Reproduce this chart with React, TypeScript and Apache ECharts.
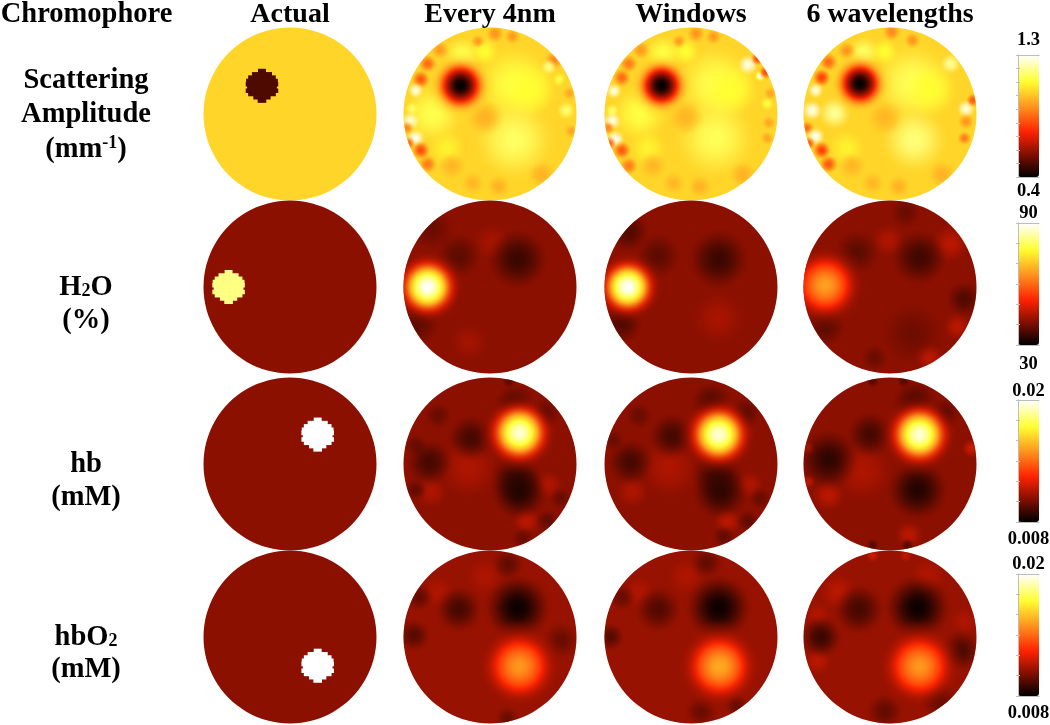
import React, { useEffect, useRef } from "react";
import * as echarts from "echarts";

type Blob = number[]; // x (0-100), y (0-100), radius (0-100 scale), value in the row's unit

const COLUMN_TITLES = ["Actual", "Every 4nm", "Windows", "6 wavelengths"];
const COLUMN_CENTERS = [290, 490, 691, 890];
const ROW_CENTERS = [114, 287, 464, 637];
const ROW_RANGES = [
  [0.4, 1.3],
  [30, 90],
  [0.008, 0.02],
  [0.008, 0.02],
];
const RANGE_STEPS = [0.1, 10, 0.002, 0.002];
const RANGE_LABELS = [
  ["1.3", "0.4"],
  ["90", "30"],
  ["0.02", "0.008"],
  ["0.02", "0.008"],
];

// Actual (ground-truth) phantoms: background value, inclusion x, y, value
const ACTUAL_BACKGROUND = [1.03, 42, 0.0104, 0.0104];
const ACTUAL_INCLUSION = [
  [33.8, 33.7, 0.5],
  [14.5, 50, 82],
  [66, 33, 0.02],
  [66, 66.6, 0.02],
];
// half-widths of the stair-stepped inclusion, row by row
const INCLUSION_ROWS = [2.3, 5.8, 8, 9.2, 9.4, 8.6, 9.4, 8, 5, 2.5];

// Reconstruction background per row
const RECON_BACKGROUND = [1.03, 42, 0.0104, 0.0106];

const SCATTER_4NM: Blob[] = [
  [64, 33, 17, 1.12], [73, 36, 12, 1.1], [64, 65, 17, 1.15], [17, 50, 13, 1.13], [34, 16, 8, 1.13], [47, 14, 6, 1.1], [25, 70, 8, 1.08],
  [47, 52, 8, 0.97], [28, 80, 6, 0.98], [40, 90, 5, 0.98], [55, 92, 5, 0.97], [80, 85, 6, 0.97],
  [14, 21, 4, 0.85], [10, 30, 4, 0.82], [7, 36, 3.5, 1.26], [5, 47, 3, 1.15], [4, 54, 4, 1.25], [2, 58, 3, 0.9],
  [7, 64, 4, 1.28], [3, 67, 3, 0.85], [10, 71, 4, 0.8], [14, 79, 4, 0.88], [21, 13, 4, 0.93], [53, 3.5, 4, 0.92],
  [63, 5, 3.5, 0.93], [43, 8, 3, 0.93], [87, 19, 4, 0.9], [84, 22, 3.5, 1.18], [90, 30, 3, 1.12], [94, 48, 4, 1.16],
  [96, 38, 3, 0.95], [97, 60, 3, 0.95], [33, 33.5, 20, 0.4],
];
const SCATTER_WINDOWS: Blob[] = [
  [64, 33, 17, 1.13], [73, 36, 12, 1.1], [64, 64, 17, 1.14], [20, 50, 12, 1.12], [34, 15, 8, 1.12], [47, 14, 6, 1.1], [25, 70, 8, 1.08],
  [47, 52, 8, 0.98], [28, 80, 6, 0.98], [40, 90, 5, 0.98], [55, 92, 5, 0.97], [80, 85, 6, 0.97],
  [14, 21, 4, 0.88], [10, 29, 4, 0.85], [5.4, 36, 3.5, 1.26], [4.4, 48, 3, 1.15], [4.4, 54, 4, 1.27], [2, 58, 3, 0.9],
  [6.3, 64.5, 4, 1.28], [3, 67, 3, 0.85], [10, 71, 4, 0.82], [14, 80, 4, 0.88], [21, 13, 4, 0.93], [53, 3.5, 4, 0.92],
  [63, 5, 3.5, 0.93], [43, 8, 3, 0.93], [83, 21, 4.5, 1.27], [90, 28, 4, 1.3], [88.5, 18, 3, 0.79], [93, 26, 3, 0.8],
  [94, 44, 3, 1.12], [96, 38, 3, 0.95], [95, 55, 3, 0.95], [94, 64, 3, 0.95], [33, 33.5, 19, 0.4],
];
const SCATTER_6WL: Blob[] = [
  [63, 32, 17, 1.14], [73, 36, 12, 1.1], [64, 65, 14, 1.17], [18, 49.5, 7, 1.2], [35, 14.5, 7, 1.15], [47, 14, 6, 1.1], [25, 70, 8, 1.08],
  [47, 52, 8, 0.98], [28, 80, 6, 0.98], [40, 90, 5, 0.98], [55, 92, 5, 0.97], [80, 85, 6, 0.97],
  [14.5, 20, 4, 0.85], [10.5, 29, 4, 0.78], [7, 36, 3.5, 1.26], [5, 48, 4.5, 1.27], [2, 58, 3, 0.85], [7, 63, 4, 1.28],
  [3, 67, 3, 0.82], [10.5, 71, 4, 0.78], [14.5, 79, 4, 0.82], [25, 13.5, 4, 0.92], [51, 2.5, 4, 0.9], [63, 7, 3.5, 0.92],
  [85, 21, 4.5, 1.2], [94, 47, 4, 1.26], [94, 54, 3.5, 0.92], [93, 64, 3, 0.88], [98, 42, 3, 0.82], [32.7, 32.4, 19, 0.4],
];

const WATER_4NM: Blob[] = [
  [51, 24, 8, 44], [38, 82, 8, 44], [16, 16, 10, 39], [8, 71, 10, 38], [32, 32, 10, 38], [66, 34, 13, 35], [14, 50, 23, 90],
];
const WATER_WINDOWS: Blob[] = [
  [66, 68, 11, 44.5], [14, 18, 9, 37], [10, 71, 9, 37], [31, 32, 10, 38], [66, 34, 13, 35], [13.5, 50, 22, 90],
];
const WATER_6WL: Blob[] = [
  [85, 25, 8, 46], [49, 23, 7, 45], [72, 90, 6, 47], [89, 73, 6, 46], [59, 7, 7, 39], [41, 91, 6, 39], [12.5, 73, 9, 38],
  [63, 77, 14, 39.5], [93, 57, 8, 37], [31, 30, 10, 38], [67, 33, 12, 35.5], [12.5, 49, 26, 66],
];

const HB_4NM: Blob[] = [
  [37.5, 52, 13, 0.011], [16, 66, 7, 0.011], [71, 83, 6, 0.0112], [84, 62, 6, 0.011], [7, 65, 5, 0.0097], [7, 39, 5, 0.0098],
  [20, 22, 6, 0.0098], [83, 83, 5, 0.0097], [69, 93, 5, 0.0098], [61, 2, 3, 0.0095], [91, 70, 5, 0.0098], [39, 35, 10, 0.0092],
  [15, 49, 10, 0.0092], [65, 58, 11, 0.0092], [67, 66, 12, 0.0086], [64.5, 15.5, 9, 0.0094], [81, 21, 7, 0.0095], [67, 32, 24, 0.0195],
];
const HB_WINDOWS: Blob[] = [
  [37.5, 52, 13, 0.011], [16, 66, 7, 0.011], [71, 83, 6, 0.0112], [84, 62, 6, 0.011], [5, 36, 5, 0.0098], [20, 22, 6, 0.0098],
  [83, 83, 5, 0.0097], [69, 92, 5, 0.0097], [90, 70, 5, 0.0098], [39, 34, 10, 0.0092], [15, 49, 10, 0.0092], [65, 56, 11, 0.0092],
  [67, 66, 12, 0.0088], [62, 14.5, 9, 0.0094], [81, 21, 7, 0.0095], [66, 33, 24, 0.0195],
];
const HB_6WL: Blob[] = [
  [34, 54, 13, 0.011], [61, 91, 6, 0.0112], [14.5, 68, 7, 0.0112], [97, 41, 4, 0.0115], [3, 41, 3, 0.0113], [3, 60, 3, 0.0113],
  [40, 2, 3, 0.0094], [58, 2, 3, 0.0094], [40, 97, 3, 0.0094], [60, 97, 3, 0.0094], [14.5, 47.5, 13, 0.0088], [38.5, 33, 10, 0.0092],
  [66, 65, 13, 0.0086], [64.5, 14.5, 10, 0.0094], [81, 21, 7, 0.0095], [67, 33, 24, 0.0195],
];

const HBO2_4NM: Blob[] = [
  [20, 24, 7, 0.011], [47, 15, 8, 0.011], [9, 27, 6, 0.0097], [6, 49, 7, 0.0095], [60.5, 8, 7, 0.0097], [91, 52, 8, 0.0098],
  [60, 97, 5, 0.0098], [32, 34, 10, 0.0092], [66, 33, 14, 0.0082], [67, 67, 27, 0.015],
];
const HBO2_WINDOWS: Blob[] = [
  [20, 24, 7, 0.011], [47, 15, 8, 0.011], [10, 27, 6, 0.0098], [3.5, 50, 6, 0.0095], [59, 7, 7, 0.0097], [76, 89, 5, 0.0096],
  [56, 93, 7, 0.0098], [31, 34, 10, 0.0094], [66, 33, 14, 0.0082], [66.5, 67, 27, 0.0154],
];
const HBO2_6WL: Blob[] = [
  [20, 24, 8, 0.0112], [8, 37, 6, 0.011], [8, 64, 6, 0.0112], [93, 41, 6, 0.011], [72, 14.5, 8, 0.011], [40, 3, 3, 0.0115],
  [59, 3, 3, 0.0113], [10, 50, 9, 0.009], [91, 58, 9, 0.0093], [78, 86, 8, 0.0096], [47, 93, 8, 0.0097], [32, 34, 11, 0.0092],
  [66, 33, 14, 0.0082], [67, 67, 27, 0.015],
];

const RECON_PANELS: Blob[][][] = [
  [SCATTER_4NM, SCATTER_WINDOWS, SCATTER_6WL],
  [WATER_4NM, WATER_WINDOWS, WATER_6WL],
  [HB_4NM, HB_WINDOWS, HB_6WL],
  [HBO2_4NM, HBO2_WINDOWS, HBO2_6WL],
];

const COLORMAP: [number, number[]][] = [
  [0, [0, 0, 0]],
  [0.2, [140, 16, 0]],
  [0.37, [255, 34, 0]],
  [0.6, [255, 160, 32]],
  [0.78, [255, 255, 48]],
  [1, [255, 255, 255]],
];

function colourAt(t: number, alpha = 1): string {
  const u = Math.max(0, Math.min(1, t));
  for (let i = 1; i < COLORMAP.length; i++) {
    const [t1, c1] = COLORMAP[i];
    const [t0, c0] = COLORMAP[i - 1];
    if (u <= t1) {
      const f = (u - t0) / (t1 - t0);
      const c = c0.map((v, k) => Math.round(v + (c1[k] - v) * f));
      return `rgba(${c[0]},${c[1]},${c[2]},${alpha})`;
    }
  }
  return `rgba(255,255,255,${alpha})`;
}

const SERIF = '"Liberation Serif", "Times New Roman", serif';
const CB_LEFT = 1018;
const CB_WIDTH = 21;
const CB_HEIGHT = 122;
const CB_TOPS = [55, 223, 400, 574];
const CB_LABEL_Y = [
  [39, 190],
  [212, 363],
  [390, 538],
  [563, 712],
];

function blobSeries(r: number, blobs: Blob[], background: number, gridIndex: number) {
  const [lo, hi] = ROW_RANGES[r];
  const tOf = (v: number) => (v - lo) / (hi - lo);
  return {
    type: "custom",
    xAxisIndex: gridIndex,
    yAxisIndex: gridIndex,
    clip: false,
    silent: true,
    encode: { x: 0, y: 1 },
    data: [[50, 50, 50, background], ...blobs],
    renderItem(params: any, api: any) {
      const c = api.coord([api.value(0), api.value(1)]);
      let rad = api.size([api.value(2), 0])[0];
      const v = api.value(3);
      const centre = api.coord([50, 50]);
      const discR = api.size([50, 0])[0];
      const clipPath = { type: "circle", shape: { cx: centre[0], cy: centre[1], r: discR } };
      if (params.dataIndex === 0) {
        return { type: "circle", shape: { cx: c[0], cy: c[1], r: rad }, style: { fill: colourAt(tOf(v)) } };
      }
      const soft = Math.abs(tOf(v) - tOf(background)) < 0.3;
      if (soft) rad *= 1.45;
      const colorStops = [];
      for (let i = 0; i <= 14; i++) {
        const s = i / 14;
        if (soft) {
          colorStops.push({ offset: s, color: colourAt(tOf(v), Math.pow(1 - s * s, 2)) });
        } else {
          const p = Math.pow(1 - s * s, 3);
          const val = background + (v - background) * p;
          const alpha = s < 0.45 ? 1 : 1 - (s - 0.45) / 0.55;
          colorStops.push({ offset: s, color: colourAt(tOf(val), alpha) });
        }
      }
      return {
        type: "circle",
        shape: { cx: c[0], cy: c[1], r: rad },
        clipPath,
        style: { fill: { type: "radial", x: 0.5, y: 0.5, r: 0.5, colorStops } },
      };
    },
  };
}

function actualSeries(r: number, gridIndex: number) {
  const [lo, hi] = ROW_RANGES[r];
  const tOf = (v: number) => (v - lo) / (hi - lo);
  const bg = ACTUAL_BACKGROUND[r];
  const [ix, iy, iv] = ACTUAL_INCLUSION[r];
  const rowStep = 1.9;
  const rows = INCLUSION_ROWS.map((half, k) => [ix, iy + (k - (INCLUSION_ROWS.length - 1) / 2) * rowStep, half, iv]);
  return {
    type: "custom",
    xAxisIndex: gridIndex,
    yAxisIndex: gridIndex,
    clip: false,
    silent: true,
    encode: { x: 0, y: 1 },
    data: [[50, 50, 50, bg], ...rows],
    renderItem(params: any, api: any) {
      const c = api.coord([api.value(0), api.value(1)]);
      const half = api.size([api.value(2), 0])[0];
      const v = api.value(3);
      if (params.dataIndex === 0) {
        return { type: "circle", shape: { cx: c[0], cy: c[1], r: half }, style: { fill: colourAt(tOf(v)) } };
      }
      const h = api.size([0, rowStep])[1];
      return {
        type: "rect",
        shape: { x: c[0] - half, y: c[1] - h / 2 - 0.6, width: half * 2, height: h + 1.2 },
        style: { fill: colourAt(tOf(v)) },
      };
    },
  };
}

const textEl = (text: string, x: number, y: number, size = 28.5, rich?: any) => ({
  type: "text",
  x,
  y,
  silent: true,
  style: {
    text,
    fill: "#000",
    font: `bold ${size}px ${SERIF}`,
    align: "center",
    verticalAlign: "middle",
    lineHeight: 24,
    ...(rich ? { rich } : {}),
  },
});

const RICH = {
  a: { fontFamily: SERIF, fontWeight: "bold", fontSize: 28.5, fill: "#000", color: "#000" },
  sub: { fontFamily: SERIF, fontWeight: "bold", fontSize: 18, fill: "#000", color: "#000", padding: [10, 0, 0, 0] },
  sup: { fontFamily: SERIF, fontWeight: "bold", fontSize: 18, fill: "#000", color: "#000", padding: [0, 0, 11, 0] },
};

export default function App() {
  const ref = useRef<HTMLDivElement>(null);
  useEffect(() => {
    const chart = echarts.init(ref.current!, undefined, { renderer: "svg" });
    const grid: any[] = [];
    const xAxis: any[] = [];
    const yAxis: any[] = [];
    const series: any[] = [];
    const R = 86.5;
    ROW_CENTERS.forEach((cy, r) => {
      COLUMN_CENTERS.forEach((cx, c) => {
        const idx = grid.length;
        grid.push({ left: cx - R, top: cy - R, width: 2 * R, height: 2 * R });
        xAxis.push({ type: "value", gridIndex: idx, min: 0, max: 100, show: false });
        yAxis.push({ type: "value", gridIndex: idx, min: 0, max: 100, inverse: true, show: false });
        series.push(
          c === 0
            ? actualSeries(r, idx)
            : blobSeries(r, RECON_PANELS[r][c - 1], RECON_BACKGROUND[r], idx)
        );
      });
    });

    const axisStyle = { lineStyle: { color: "#bdbdbd", width: 1 } };
    const visualMap: any[] = [];
    const firstBarSeries = series.length;
    const barColours = Array.from({ length: 41 }, (_, i) => colourAt(i / 40));
    ROW_RANGES.forEach(([lo, hi], r) => {
      const g = grid.length;
      const xIdx = xAxis.length;
      const yIdx = yAxis.length;
      grid.push({ left: CB_LEFT, top: CB_TOPS[r], width: CB_WIDTH, height: CB_HEIGHT });
      ["bottom", "top"].forEach((position) =>
        xAxis.push({
          type: "value", gridIndex: g, min: 0, max: 1, position, z: 8,
          axisLine: { show: true, ...axisStyle }, axisTick: { show: false }, axisLabel: { show: false }, splitLine: { show: false },
        })
      );
      ["left", "right"].forEach((position) =>
        yAxis.push({
          type: "value", gridIndex: g, min: lo, max: hi, interval: RANGE_STEPS[r], position, z: 8,
          axisLine: { show: true, ...axisStyle },
          axisTick: { show: true, inside: true, length: 2, ...axisStyle },
          axisLabel: { show: false }, splitLine: { show: false },
        })
      );
      series.push({
        type: "custom", xAxisIndex: xIdx, yAxisIndex: yIdx, data: [], silent: true, renderItem: () => null,
      });
      visualMap.push({
        type: "continuous",
        min: lo,
        max: hi,
        seriesIndex: firstBarSeries + r,
        left: CB_LEFT,
        top: CB_TOPS[r],
        itemWidth: CB_WIDTH,
        itemHeight: CB_HEIGHT,
        padding: 0,
        calculable: false,
        hoverLink: false,
        showLabel: false,
        textStyle: { fontSize: 0 },
        inRange: { color: barColours },
      });
    });

    const graphic: any[] = [
      textEl("Chromophore", 86.5, 12),
      ...COLUMN_TITLES.map((t, c) => textEl(t, COLUMN_CENTERS[c], 12, 28)),
      textEl("Scattering", 86, 78),
      textEl("Amplitude", 86, 112),
      textEl("{a|(mm}{sup|-1}{a|)}", 86, 147, 28.5, RICH),
      textEl("{a|H}{sub|2}{a|O}", 86, 285, 28.5, RICH),
      textEl("(%)", 86, 318),
      textEl("hb", 86, 462),
      textEl("(mM)", 86, 495),
      textEl("{a|hbO}{sub|2}", 86, 635, 28.5, RICH),
      textEl("(mM)", 86, 667),
    ];
    RANGE_LABELS.forEach((pair, r) => {
      graphic.push(textEl(pair[0], 1028.5, CB_LABEL_Y[r][0], 18.5));
      graphic.push(textEl(pair[1], 1028.5, CB_LABEL_Y[r][1], 18.5));
    });

    chart.setOption({
      animation: false,
      backgroundColor: "#fff",
      grid,
      xAxis,
      yAxis,
      series,
      visualMap,
      graphic,
    });
    return () => chart.dispose();
  }, []);
  return <div ref={ref} style={{ position: "absolute", left: 0, top: 0, width: 1050, height: 725, filter: "blur(0.6px)" }} />;
}
